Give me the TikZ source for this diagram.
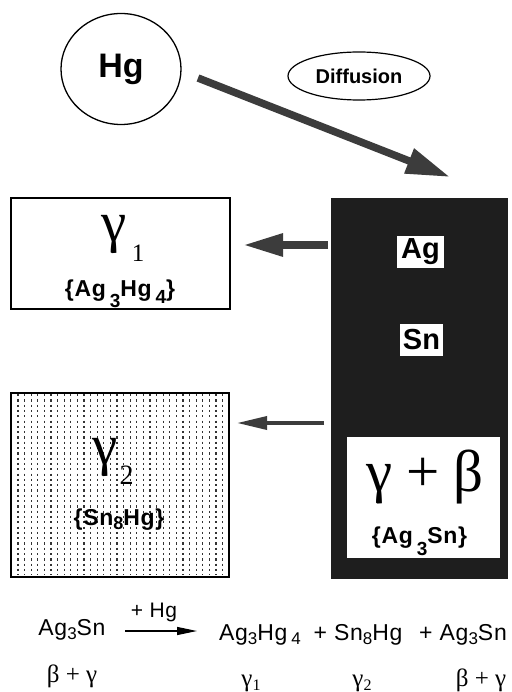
\documentclass[tikz,border=0pt]{standalone}
\usepackage{fontspec}
\setmainfont{Liberation Sans}
\newfontfamily\grk{Liberation Serif}
\usetikzlibrary{arrows.meta,shapes.geometric}
\newcommand\lowr[3]{\raisebox{-#2pt}{\fontsize{#1}{#1}\selectfont #3}}
\definecolor{arrowgray}{HTML}{3C3C3C}
\definecolor{blockblack}{HTML}{1E1E1E}
\begin{document}
\begin{tikzpicture}[x=1pt,y=-1pt,
  outlinebox/.style={draw, line width=1.6pt, inner sep=0pt},
  whitetag/.style={fill=white, inner sep=0pt, minimum height=32pt, font=\fontsize{29}{29}\selectfont\bfseries},
  formula/.style={inner sep=0pt, anchor=base, font=\fontsize{23}{23}\selectfont\bfseries\addfontfeature{LetterSpace=3}},
  greekbig/.style={inner sep=0pt, font=\grk\fontsize{57}{57}\selectfont},
  greeksub/.style={inner sep=0pt, font=\grk\fontsize{25}{25}\selectfont},
  eqtext/.style={inner sep=0pt, anchor=base, font=\fontsize{23}{23}\selectfont\addfontfeature{LetterSpace=3}},
  eqgreek/.style={inner sep=0pt, anchor=base, font=\grk\fontsize{25}{25}\selectfont}
]
\useasboundingbox (0,0) rectangle (511,692);
\fill[white] (0,0) rectangle (511,692);

% Hg circle and Diffusion label
\node[ellipse, draw, line width=1.3pt, minimum width=120pt, minimum height=111pt, inner sep=0pt,
      font=\fontsize{34}{34}\selectfont\bfseries] (hg) at (121,69) {Hg};
\node[ellipse, draw, line width=1.2pt, minimum width=142pt, minimum height=48pt, inner sep=0pt,
      font=\fontsize{20}{20}\selectfont\bfseries] (diff) at (359,76) {Diffusion};

% alloy block
\node[fill=blockblack, inner sep=0pt, minimum width=177pt, minimum height=381pt] (alloy) at (419.5,388.5) {};
\node[whitetag, minimum width=47pt] (ag) at (420.5,252) {Ag};
\node[whitetag, minimum width=43pt] (sn) at (421.5,340) {Sn};
\node[fill=white, inner sep=0pt, minimum width=153pt, minimum height=121pt] (gbbox) at (423.5,497.5) {};
\node[greekbig, font=\grk\fontsize{59}{59}\selectfont] (gb) at (425,477) {γ\hspace{14pt}+\hspace{13pt}β};
\node[formula] (gbf) at (419.5,543) {\{Ag\,\lowr{19}{12}{3}Sn\}};

% gamma1 box
\node[outlinebox, minimum width=219pt, minimum height=111pt] (g1) at (120.5,253.5) {};
\node[greekbig] (g1g) at (114.5,234) {γ};
\node[greeksub] (g1n) at (138,253) {1};
\node[formula] (g1f) at (120,296) {\{Ag\,\lowr{19}{11}{3}Hg\,\lowr{19}{7}{4}\}};

% gamma2 box with dotted fill
\node[outlinebox, minimum width=218pt, minimum height=184pt] (g2) at (120,485) {};
\foreach \i in {0,...,31}{
  \draw[black!80, line width=1.3pt, dash pattern=on 2.2pt off 3.1pt]
    ({18+\i*6.6},394) -- ({18+\i*6.6},575);
}
\node[greekbig] (g2g) at (105.5,457) {γ};
\node[greeksub, font=\grk\fontsize{28}{28}\selectfont] (g2n) at (126.5,475) {2};
\node[formula] (g2f) at (119,525) {\{Sn\lowr{18}{4}{8}Hg\}};

% arrows
\coordinate (dstart) at (198,78);
\coordinate (dend) at (450,177);
\draw[arrowgray, line width=7.5pt, -{Triangle[length=44pt,width=25pt]}] (dstart) -- (dend);
\coordinate (a1s) at (328,245);
\coordinate (a1e) at (242,245);
\draw[arrowgray, line width=8.5pt, -{Triangle[length=41pt,width=21pt]}] (a1s) -- (a1e);
\coordinate (a2s) at (324,423);
\coordinate (a2e) at (237,423);
\draw[arrowgray, line width=3.5pt, -{Triangle[length=30pt,width=13pt]}] (a2s) -- (a2e);

% equation
\node[eqtext] (r1) at (72,635) {Ag\lowr{17}{4}{3}Sn};
\node[eqtext, font=\fontsize{21}{21}\selectfont\addfontfeature{LetterSpace=3}] (plus) at (154,617) {+ Hg};
\coordinate (ra) at (125,631);
\coordinate (rb) at (197,631);
\draw[line width=1.3pt, -{Triangle[length=20pt,width=8pt]}] (ra) -- (rb);
\node[eqtext] (p1) at (260,640) {Ag\lowr{17}{4}{3}Hg\,\lowr{17}{4}{4}};
\node[eqtext] (p2) at (358,640) {+ Sn\lowr{17}{4}{8}Hg};
\node[eqtext] (p3) at (463,640) {+ Ag\lowr{17}{4}{3}Sn};
\node[eqgreek] (l1) at (72,682) {β + γ};
\node[eqgreek] (l2) at (251,686) {γ\lowr{16}{4}{1}};
\node[eqgreek] (l3) at (362,686) {γ\lowr{16}{4}{2}};
\node[eqgreek] (l4) at (481,686) {β + γ};
\end{tikzpicture}
\end{document}
